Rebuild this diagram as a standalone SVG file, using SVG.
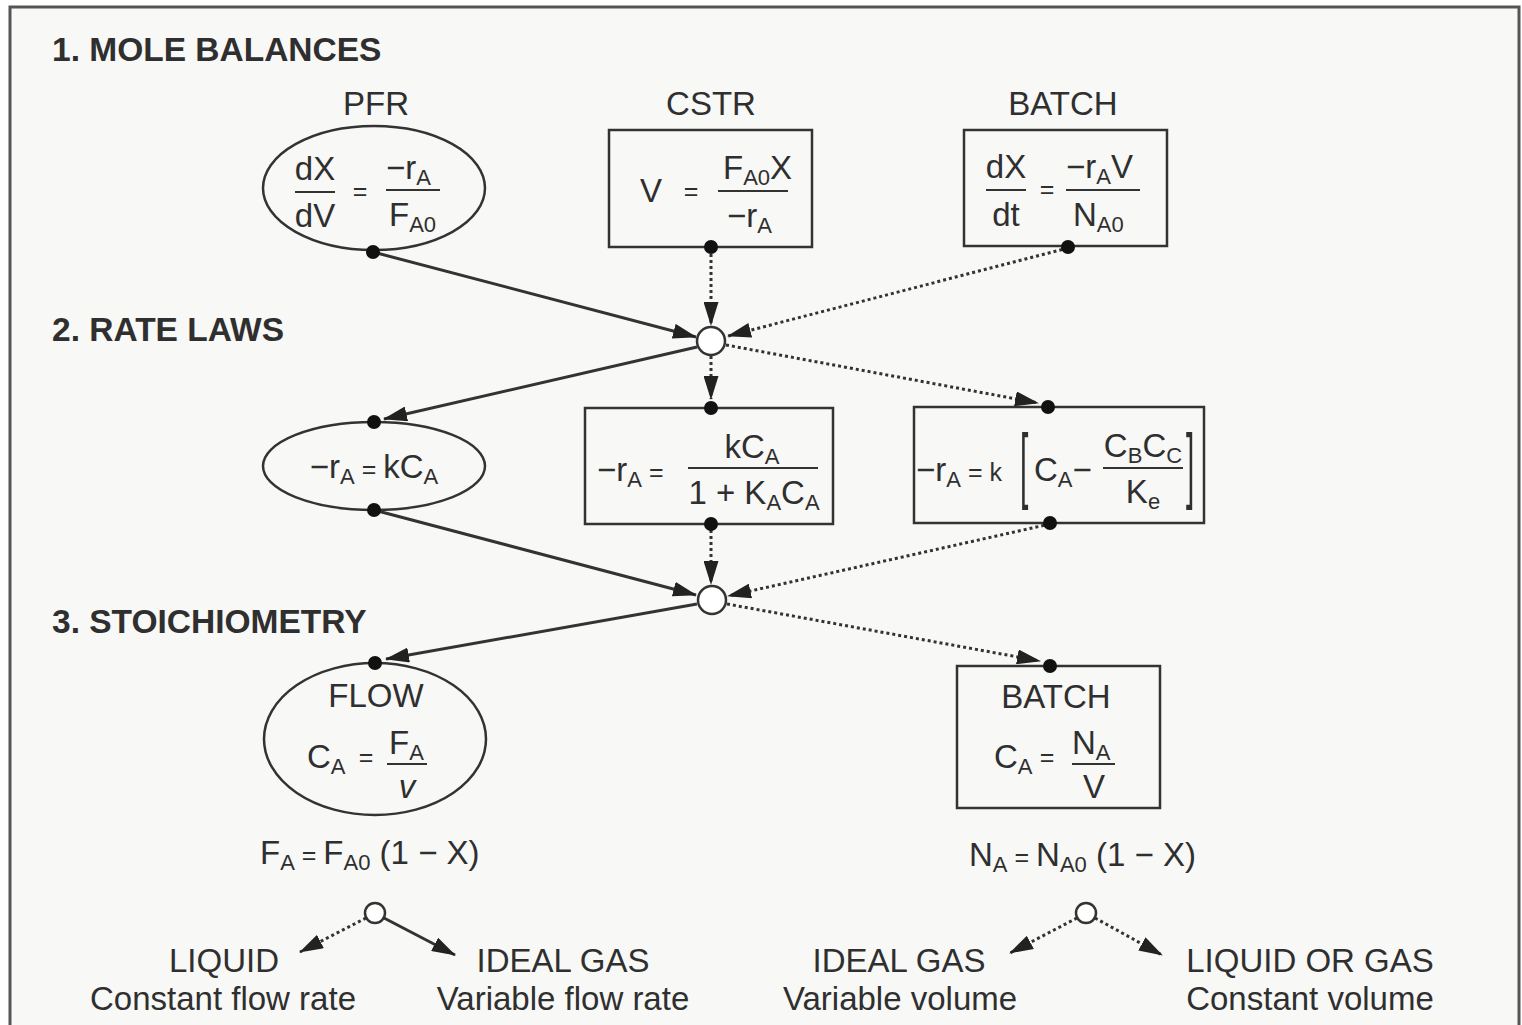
<svg xmlns="http://www.w3.org/2000/svg" width="1522" height="1025" viewBox="0 0 1522 1025">
<style>
text{font-family:"Liberation Sans",Arial,sans-serif;fill:#2f2f2f}
.h{font-size:33.5px;font-weight:bold}
.t{font-size:33px}
.m{font-size:33px}
.s{font-size:22px}
.eq{font-size:25px}
.br{font-size:30px}
.node{fill:none;stroke:#333;stroke-width:2.5}
.bar{stroke:#333;stroke-width:2}
.solid{fill:none;stroke:#333;stroke-width:3;marker-end:url(#ah)}
.dot{fill:none;stroke:#333;stroke-width:3;stroke-dasharray:3 3;marker-end:url(#ah)}
.pin{fill:#111}
.jn{fill:#fff;stroke:#333;stroke-width:2.5}
</style>
<defs>
<marker id="ah" markerUnits="userSpaceOnUse" markerWidth="24" markerHeight="15" refX="23" refY="7.5" orient="auto">
<path d="M0,0 L24,7.5 L0,15 Z" fill="#222"/>
</marker>
</defs>
<rect x="0" y="0" width="1522" height="1025" fill="#ffffff"/>
<rect x="10" y="7" width="1509" height="1030" fill="#f8f8f6" stroke="#555" stroke-width="3"/>

<g id="headings">
<text class="h" x="52" y="61">1. MOLE BALANCES</text>
<text class="h" x="52" y="341">2. RATE LAWS</text>
<text class="h" x="52" y="633">3. STOICHIOMETRY</text>
</g>

<g id="connectors">
<path class="solid" d="M373,252 L696,337"/>
<path class="dot" d="M711,254 L711,325"/>
<path class="dot" d="M1068,248 L728,336"/>
<path class="solid" d="M697,347 L384,419"/>
<path class="dot" d="M711,356 L711,399"/>
<path class="dot" d="M726,345 L1038,403"/>
<path class="solid" d="M374,510 L696,595"/>
<path class="dot" d="M711,530 L711,584"/>
<path class="dot" d="M1050,524 L728,596"/>
<path class="solid" d="M697,604 L386,659"/>
<path class="dot" d="M727,604 L1040,661"/>
<path class="dot" d="M366,918 L300,952"/>
<path class="solid" d="M384,918 L455,955"/>
<path class="dot" d="M1077,918 L1010,953"/>
<path class="dot" d="M1095,918 L1162,955"/>
</g>

<g id="junction1"><circle class="jn" cx="711" cy="341" r="14"/></g>
<g id="junction2"><circle class="jn" cx="712" cy="600" r="14"/></g>
<g id="junction3"><circle class="jn" cx="375" cy="913" r="10"/></g>
<g id="junction4"><circle class="jn" cx="1086" cy="913" r="10"/></g>

<g id="pfr">
<text class="t" x="376" y="115" text-anchor="middle">PFR</text>
<ellipse class="node" cx="374" cy="188" rx="111" ry="62"/>
<text class="m" x="315" y="180" text-anchor="middle">dX</text>
<line class="bar" x1="295" y1="192" x2="335" y2="192"/>
<text class="m" x="315" y="227" text-anchor="middle">dV</text>
<text class="eq" x="360" y="200" text-anchor="middle">=</text>
<text class="m" x="386" y="179">−r<tspan class="s" dy="6">A</tspan></text>
<line class="bar" x1="386" y1="190" x2="440" y2="190"/>
<text class="m" x="389" y="226">F<tspan class="s" dy="6">A0</tspan></text>
<circle class="pin" cx="373" cy="252" r="7"/>
</g>

<g id="cstr">
<text class="t" x="711" y="115" text-anchor="middle">CSTR</text>
<rect class="node" x="609" y="130" width="203" height="117"/>
<text class="m" x="651" y="202" text-anchor="middle">V</text>
<text class="eq" x="691" y="200" text-anchor="middle">=</text>
<text class="m" x="723" y="179">F<tspan class="s" dy="6">A0</tspan><tspan dy="-6">X</tspan></text>
<line class="bar" x1="718" y1="191" x2="788" y2="191"/>
<text class="m" x="727" y="227">−r<tspan class="s" dy="6">A</tspan></text>
<circle class="pin" cx="711" cy="247" r="7"/>
</g>

<g id="batch">
<text class="t" x="1063" y="115" text-anchor="middle">BATCH</text>
<rect class="node" x="964" y="130" width="203" height="116"/>
<text class="m" x="1006" y="178" text-anchor="middle">dX</text>
<line class="bar" x1="986" y1="190" x2="1026" y2="190"/>
<text class="m" x="1006" y="226" text-anchor="middle">dt</text>
<text class="eq" x="1047" y="198" text-anchor="middle">=</text>
<text class="m" x="1066" y="178">−r<tspan class="s" dy="6">A</tspan><tspan dy="-6">V</tspan></text>
<line class="bar" x1="1066" y1="190" x2="1140" y2="190"/>
<text class="m" x="1073" y="226">N<tspan class="s" dy="6">A0</tspan></text>
<circle class="pin" cx="1068" cy="247" r="7"/>
</g>

<g id="rate1">
<ellipse class="node" cx="374" cy="466" rx="111" ry="44"/>
<text class="m" x="374" y="478" text-anchor="middle">−r<tspan class="s" dy="6">A</tspan><tspan class="eq" dy="-6"> = </tspan><tspan>kC</tspan><tspan class="s" dy="6">A</tspan></text>
<circle class="pin" cx="374" cy="422" r="7"/>
<circle class="pin" cx="374" cy="510" r="7"/>
</g>

<g id="rate2">
<rect class="node" x="585" y="408" width="248" height="116"/>
<text class="m" x="597" y="481">−r<tspan class="s" dy="6">A</tspan><tspan class="eq" dy="-6"> =</tspan></text>
<text class="m" x="752" y="458" text-anchor="middle">kC<tspan class="s" dy="6">A</tspan></text>
<line class="bar" x1="688" y1="468" x2="818" y2="468"/>
<text class="m" x="754" y="504" text-anchor="middle">1 + K<tspan class="s" dy="6">A</tspan><tspan dy="-6">C</tspan><tspan class="s" dy="6">A</tspan></text>
<circle class="pin" cx="711" cy="408" r="7"/>
<circle class="pin" cx="711" cy="524" r="7"/>
</g>

<g id="rate3">
<rect class="node" x="914" y="407" width="290" height="116"/>
<text class="m" x="916" y="481">−r<tspan class="s" dy="6">A</tspan><tspan class="eq" dy="-6"> = k</tspan></text>
<text class="br" transform="translate(1020,493) scale(1,2.75)">[</text>
<text class="m" x="1034" y="481">C<tspan class="s" dy="6">A</tspan><tspan dy="-6">−</tspan></text>
<text class="m" x="1143" y="457" text-anchor="middle">C<tspan class="s" dy="6">B</tspan><tspan dy="-6">C</tspan><tspan class="s" dy="6">C</tspan></text>
<line class="bar" x1="1103" y1="468" x2="1183" y2="468"/>
<text class="m" x="1143" y="503" text-anchor="middle">K<tspan class="s" dy="6">e</tspan></text>
<text class="br" transform="translate(1186,493) scale(1,2.75)">]</text>
<circle class="pin" cx="1048" cy="407" r="7"/>
<circle class="pin" cx="1050" cy="523" r="7"/>
</g>

<g id="flow">
<ellipse class="node" cx="375" cy="739" rx="111" ry="76"/>
<text class="m" x="376" y="707" text-anchor="middle">FLOW</text>
<text class="m" x="307" y="768">C<tspan class="s" dy="6">A</tspan></text>
<text class="eq" x="366" y="766" text-anchor="middle">=</text>
<text class="m" x="389" y="754">F<tspan class="s" dy="6">A</tspan></text>
<line class="bar" x1="387" y1="764" x2="427" y2="764"/>
<text class="m" x="407" y="798" text-anchor="middle" font-style="italic">v</text>
<circle class="pin" cx="375" cy="663" r="7"/>
</g>

<g id="batch2">
<rect class="node" x="957" y="666" width="203" height="142"/>
<text class="m" x="1056" y="708" text-anchor="middle">BATCH</text>
<text class="m" x="994" y="768">C<tspan class="s" dy="6">A</tspan></text>
<text class="eq" x="1047" y="766" text-anchor="middle">=</text>
<text class="m" x="1072" y="754">N<tspan class="s" dy="6">A</tspan></text>
<line class="bar" x1="1072" y1="764" x2="1115" y2="764"/>
<text class="m" x="1094" y="798" text-anchor="middle">V</text>
<circle class="pin" cx="1050" cy="666" r="7"/>
</g>

<g id="flowrel">
<text class="m" x="260" y="864">F<tspan class="s" dy="6">A</tspan><tspan class="eq" dy="-6"> = </tspan><tspan>F</tspan><tspan class="s" dy="6">A0</tspan><tspan dy="-6"> (1 − X)</tspan></text>
</g>
<g id="batchrel">
<text class="m" x="969" y="866">N<tspan class="s" dy="6">A</tspan><tspan class="eq" dy="-6"> = </tspan><tspan>N</tspan><tspan class="s" dy="6">A0</tspan><tspan dy="-6"> (1 − X)</tspan></text>
</g>

<g id="liquid">
<text class="t" x="224" y="972" text-anchor="middle">LIQUID</text>
<text class="t" x="223" y="1010" text-anchor="middle">Constant flow rate</text>
</g>
<g id="idealgas1">
<text class="t" x="563" y="972" text-anchor="middle">IDEAL GAS</text>
<text class="t" x="563" y="1010" text-anchor="middle">Variable flow rate</text>
</g>
<g id="idealgas2">
<text class="t" x="899" y="972" text-anchor="middle">IDEAL GAS</text>
<text class="t" x="900" y="1010" text-anchor="middle">Variable volume</text>
</g>
<g id="liquidorgas">
<text class="t" x="1310" y="972" text-anchor="middle">LIQUID OR GAS</text>
<text class="t" x="1310" y="1010" text-anchor="middle">Constant volume</text>
</g>
</svg>
